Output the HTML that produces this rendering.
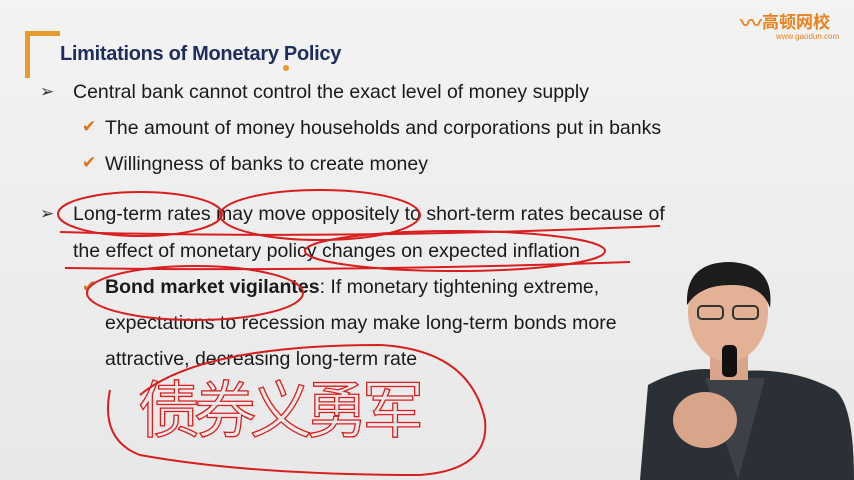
<!DOCTYPE html>
<html><head><meta charset="utf-8"><style>
html,body{margin:0;padding:0}
body{width:854px;height:480px;overflow:hidden;background:#eeeeee;position:relative;font-family:"Liberation Sans","Noto Sans CJK SC",sans-serif;color:#1a1a1a}
.t{position:absolute;font-size:19.5px;white-space:nowrap;line-height:22px}
.b{position:absolute;font-size:17px;color:#333}
.c{position:absolute;font-size:17px;color:#d9731f}
</style></head><body>
<div style="position:absolute;inset:0;background:linear-gradient(#f3f3f3,#e8e8e8)"></div>
<div style="position:absolute;left:25px;top:31px;width:30px;height:42px;border-left:5px solid #e89a2c;border-top:5px solid #e89a2c"></div>
<div style="position:absolute;left:60px;top:43px;font-size:20px;font-weight:bold;color:#1f2d5c;letter-spacing:-0.3px">Limitations of Monetary Policy</div>
<div style="position:absolute;left:283px;top:65px;width:6px;height:6px;border-radius:3px;background:#e89a2c"></div>
<div style="position:absolute;left:740px;top:6px;color:#e8821e">
<span style="font-size:22px;font-weight:bold">〰</span><span style="font-size:17px;font-weight:bold;vertical-align:3px">高顿网校</span>
<div style="font-size:8px;margin-left:36px;margin-top:-6px">www.gaodun.com</div></div>

<div class="b" style="left:40px;top:82px">➢</div>
<div class="t" style="left:73px;top:81px">Central bank cannot control the exact level of money supply</div>
<div class="c" style="left:82px;top:117px">✔</div>
<div class="t" style="left:105px;top:117px">The amount of money households and corporations put in banks</div>
<div class="c" style="left:82px;top:153px">✔</div>
<div class="t" style="left:105px;top:153px">Willingness of banks to create money</div>
<div class="b" style="left:40px;top:204px">➢</div>
<div class="t" style="left:73px;top:203px">Long-term rates may move oppositely to short-term rates because of</div>
<div class="t" style="left:73px;top:240px">the effect of monetary policy changes on expected inflation</div>
<div class="c" style="left:82px;top:277px">✔</div>
<div class="t" style="left:105px;top:276px"><b>Bond market vigilantes</b>: If monetary tightening extreme,</div>
<div class="t" style="left:105px;top:312px">expectations to recession may make long-term bonds more</div>
<div class="t" style="left:105px;top:348px">attractive, decreasing long-term rate</div>

<svg width="854" height="480" style="position:absolute;left:0;top:0" fill="none" stroke="#d81e1e" stroke-width="2">
<ellipse cx="140" cy="214" rx="82" ry="22"/>
<ellipse cx="320" cy="215" rx="100" ry="25"/>
<path d="M60 232 Q350 240 660 226"/>
<ellipse cx="455" cy="251" rx="150" ry="20"/>
<path d="M65 268 Q350 272 630 262"/>
<ellipse cx="195" cy="293" rx="108" ry="27"/>
<path d="M140 395 Q200 345 380 345 Q470 350 485 420 Q490 470 420 475 Q250 475 140 455 Q100 440 110 390"/>
<text x="138" y="432" font-family="WenQuanYi Zen Hei, sans-serif" font-size="62" fill="none" stroke="#d81e1e" stroke-width="1.3" letter-spacing="-6">债券义勇军</text>
</svg>

<svg width="854" height="480" style="position:absolute;left:0;top:0">
<path d="M640 480 L648 385 Q690 362 730 372 Q790 365 835 390 Q854 405 854 480Z" fill="#2b2f36"/>
<path d="M705 378 L738 480 L765 378Z" fill="#3e4048"/>
<rect x="710" y="340" width="38" height="40" fill="#d9a58a"/>
<ellipse cx="728" cy="312" rx="40" ry="50" fill="#e2b196"/>
<path d="M687 305 Q685 262 730 262 Q775 264 770 308 Q762 284 730 285 Q700 285 687 305Z" fill="#1c1c1c"/>
<rect x="698" y="306" width="25" height="13" rx="4" fill="none" stroke="#333" stroke-width="2"/>
<rect x="733" y="306" width="25" height="13" rx="4" fill="none" stroke="#333" stroke-width="2"/>
<rect x="722" y="345" width="15" height="32" rx="5" fill="#111"/>
<ellipse cx="705" cy="420" rx="32" ry="28" fill="#d9a58a"/>
</svg>
</body></html>
